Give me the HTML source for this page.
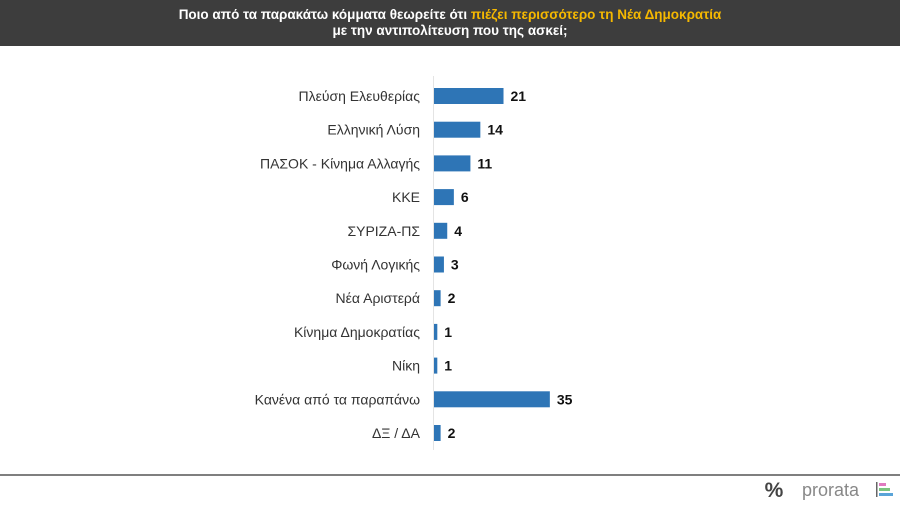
<!DOCTYPE html>
<html><head><meta charset="utf-8"><style>
body{margin:0;width:900px;height:506px;background:#fff;overflow:hidden;font-family:"Liberation Sans",sans-serif}
#hdr{position:absolute;left:0;top:0;width:900px;height:46px;background:#3d3d3d;color:#fff;text-align:center;font-weight:bold;font-size:13.5px;line-height:16px;padding-top:7px;box-sizing:border-box}
#hdr span{color:#f5b800}
svg{position:absolute;left:0;top:0}
</style></head><body>
<div id="hdr">Ποιο από τα παρακάτω κόμματα θεωρείτε ότι <span>πιέζει περισσότερο τη Νέα Δημοκρατία</span><br>με την αντιπολίτευση που της ασκεί;</div>
<svg id="c" width="900" height="506">
<line x1="433.5" y1="76" x2="433.5" y2="450" stroke="#e4e4e4"/>
<line x1="0" y1="475" x2="900" y2="475" stroke="#555" stroke-width="1.5"/>
<text x="774" y="497" font-size="21" font-weight="bold" fill="#444" text-anchor="middle">%</text>
<text x="802" y="496" font-size="18" fill="#888">prorata</text>
<rect x="876" y="482" width="1.5" height="15" fill="#666"/>
<rect x="879" y="483" width="7" height="3" fill="#e07ac0"/>
<rect x="879" y="488" width="11" height="3" fill="#7bc47f"/>
<rect x="879" y="493" width="14" height="3" fill="#5aa4d8"/>
</svg>
<script>
const categories=["Πλεύση Ελευθερίας","Ελληνική Λύση","ΠΑΣΟΚ - Κίνημα Αλλαγής","ΚΚΕ","ΣΥΡΙΖΑ-ΠΣ","Φωνή Λογικής","Νέα Αριστερά","Κίνημα Δημοκρατίας","Νίκη","Κανένα από τα παραπάνω","ΔΞ / ΔΑ"];
const values=[21,14,11,6,4,3,2,1,1,35,2];
const svg=document.getElementById('c');
const NS='http://www.w3.org/2000/svg';
const x0=434, xs=v=>v*3.31;
const yc=i=>96+i*33.7;
categories.forEach((c,i)=>{
  const y=yc(i);
  const t=document.createElementNS(NS,'text');
  t.setAttribute('x',420);t.setAttribute('y',y+5);t.setAttribute('text-anchor','end');
  t.setAttribute('font-size','14');t.setAttribute('fill','#333');t.textContent=c;
  
  
  svg.appendChild(t);
  const r=document.createElementNS(NS,'rect');
  r.setAttribute('x',x0);r.setAttribute('y',y-8);r.setAttribute('width',xs(values[i]));r.setAttribute('height',16);
  r.setAttribute('fill','#2e75b6');
  
  
  svg.appendChild(r);
  const v=document.createElementNS(NS,'text');
  v.setAttribute('x',x0+xs(values[i])+7);v.setAttribute('y',y+5);
  v.setAttribute('font-size','14');v.setAttribute('font-weight','bold');v.setAttribute('fill','#111');v.textContent=values[i];
  
  
  svg.appendChild(v);
});
</script>
</body></html>
